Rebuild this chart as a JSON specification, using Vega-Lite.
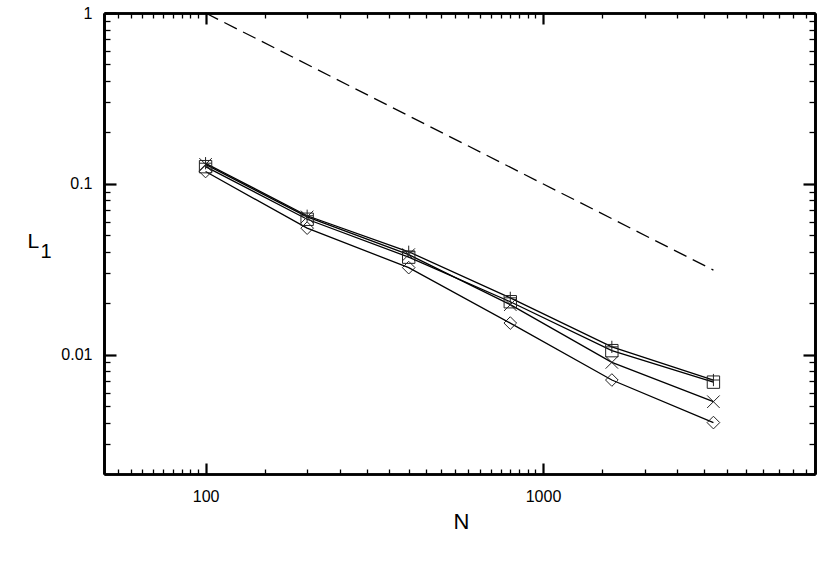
{
  "$schema": "https://vega.github.io/schema/vega-lite/v6.json",
  "width": 711,
  "height": 461,
  "autosize": "none",
  "padding": {"left": 104, "top": 13, "right": 15, "bottom": 106},
  "background": "white",
  "config": {
    "view": {"stroke": null},
    "axis": {"tickColor": "black", "domainColor": "black", "domainWidth": 2.7, "grid": false, "labelOverlap": false, "labelFlush": false, "labelBound": false}
  },
  "datasets": {
    "ref": [
      {"N": 100, "L1": 1},
      {"N": 3200, "L1": 0.03125}
    ],
    "err": [
      {"series": "plus", "N": 100, "L1": 0.132},
      {"series": "plus", "N": 200, "L1": 0.065},
      {"series": "plus", "N": 400, "L1": 0.040},
      {"series": "plus", "N": 800, "L1": 0.0215},
      {"series": "plus", "N": 1600, "L1": 0.0111},
      {"series": "plus", "N": 3200, "L1": 0.0071},
      {"series": "square", "N": 100, "L1": 0.126},
      {"series": "square", "N": 200, "L1": 0.062},
      {"series": "square", "N": 400, "L1": 0.0372},
      {"series": "square", "N": 800, "L1": 0.0204},
      {"series": "square", "N": 1600, "L1": 0.01055},
      {"series": "square", "N": 3200, "L1": 0.0069},
      {"series": "cross", "N": 100, "L1": 0.130},
      {"series": "cross", "N": 200, "L1": 0.064},
      {"series": "cross", "N": 400, "L1": 0.0385},
      {"series": "cross", "N": 800, "L1": 0.0196},
      {"series": "cross", "N": 1600, "L1": 0.0090},
      {"series": "cross", "N": 3200, "L1": 0.0053},
      {"series": "diamond", "N": 100, "L1": 0.118},
      {"series": "diamond", "N": 200, "L1": 0.055},
      {"series": "diamond", "N": 400, "L1": 0.0323},
      {"series": "diamond", "N": 800, "L1": 0.0153},
      {"series": "diamond", "N": 1600, "L1": 0.0071},
      {"series": "diamond", "N": 3200, "L1": 0.0040}
    ]
  },
  "resolve": {"axis": {"x": "independent", "y": "independent"}},
  "layer": [
    {
      "data": {"name": "ref"},
      "mark": {"type": "line", "color": "black", "strokeWidth": 1.3, "strokeDash": [14, 7]},
      "encoding": {
        "x": {
          "field": "N", "type": "quantitative",
          "scale": {"type": "log", "domain": [50, 6400], "nice": false},
          "axis": {
            "orient": "bottom",
            "values": [100, 1000],
            "labelExpr": "datum.value == 100 ? '100' : '1000'",
            "tickSize": -11,
            "tickWidth": 2.2,
            "labelFont": "Liberation Sans",
            "labelFontSize": 16,
            "labelColor": "black",
            "labelPadding": 25,
            "title": "N",
            "titleFont": "Liberation Sans",
            "titleFontSize": 22,
            "titleFontWeight": "normal",
            "titleColor": "black",
            "titleX": 357,
            "titleY": 54,
            "titleAlign": "center",
            "titleBaseline": "alphabetic"
          }
        },
        "y": {
          "field": "L1", "type": "quantitative",
          "scale": {"type": "log", "domain": [0.002, 1], "nice": false},
          "axis": {
            "orient": "left",
            "values": [0.01, 0.1, 1],
            "labelExpr": "datum.value == 1 ? '1' : datum.value == 0.1 ? '0.1' : '0.01'",
            "tickSize": -12,
            "tickWidth": 2.2,
            "labelFont": "Liberation Sans",
            "labelFontSize": 16,
            "labelColor": "black",
            "labelPadding": 24,
            "title": "L",
            "titleFont": "Liberation Sans",
            "titleFontSize": 21,
            "titleFontWeight": "normal",
            "titleColor": "black",
            "titleAngle": 0,
            "titleX": -77,
            "titleY": 234,
            "titleAlign": "left",
            "titleBaseline": "alphabetic"
          }
        }
      }
    },
    {
      "data": {"name": "err"},
      "mark": {"type": "line", "color": "black", "strokeWidth": 1.3},
      "encoding": {
        "x": {
          "field": "N", "type": "quantitative",
          "scale": {"type": "log", "domain": [50, 6400], "nice": false},
          "axis": {
            "orient": "bottom",
            "values": [55,60,65,70,75,80,85,90,95,150,200,250,300,350,400,450,500,550,600,650,700,750,800,850,900,950,1500,2000,2500,3000,3500,4000,4500,5000,5500,6000],
            "labels": false,
            "tickSize": -5,
            "tickWidth": 1.3,
            "title": null
          }
        },
        "y": {
          "field": "L1", "type": "quantitative",
          "scale": {"type": "log", "domain": [0.002, 1], "nice": false},
          "axis": {
            "orient": "left",
            "values": [0.002,0.003,0.004,0.005,0.006,0.007,0.008,0.009,0.02,0.03,0.04,0.05,0.06,0.07,0.08,0.09,0.2,0.3,0.4,0.5,0.6,0.7,0.8,0.9],
            "labels": false,
            "tickSize": -6,
            "tickWidth": 1.3,
            "title": null
          }
        },
        "detail": {"field": "series", "type": "nominal"}
      }
    },
    {
      "data": {"name": "err"},
      "transform": [{"filter": "datum.series == 'plus' || datum.series == 'square'"}],
      "mark": {"type": "point", "filled": false, "stroke": "#222222", "strokeWidth": 1, "opacity": 1},
      "encoding": {
        "x": {
          "field": "N", "type": "quantitative",
          "scale": {"type": "log", "domain": [50, 6400], "nice": false},
          "axis": {
            "orient": "top",
            "values": [100, 1000],
            "labels": false,
            "tickSize": -11,
            "tickWidth": 2.2,
            "title": null
          }
        },
        "y": {
          "field": "L1", "type": "quantitative",
          "scale": {"type": "log", "domain": [0.002, 1], "nice": false},
          "axis": {
            "orient": "right",
            "values": [0.01, 0.1, 1],
            "labels": false,
            "tickSize": -12,
            "tickWidth": 2.2,
            "title": "1",
            "titleFont": "Liberation Sans",
            "titleFontSize": 20,
            "titleFontWeight": "normal",
            "titleColor": "black",
            "titleAngle": 0,
            "titleX": -775,
            "titleY": 244,
            "titleAlign": "left",
            "titleBaseline": "alphabetic"
          }
        },
        "shape": {
          "field": "series", "type": "nominal",
          "scale": {"domain": ["plus", "square", "cross", "diamond"], "range": ["M-1,0L1,0M0,-1L0,1", "square", "M-1,-1L1,1M-1,1L1,-1", "diamond"]},
          "legend": null
        },
        "size": {
          "field": "series", "type": "nominal",
          "scale": {"domain": ["plus", "square", "cross", "diamond"], "range": [150, 160, 190, 240]},
          "legend": null
        }
      }
    },
    {
      "data": {"name": "err"},
      "transform": [{"filter": "datum.series == 'cross' || datum.series == 'diamond'"}],
      "mark": {"type": "point", "filled": false, "stroke": "#222222", "strokeWidth": 1, "opacity": 1},
      "encoding": {
        "x": {
          "field": "N", "type": "quantitative",
          "scale": {"type": "log", "domain": [50, 6400], "nice": false},
          "axis": {
            "orient": "top",
            "values": [55,60,65,70,75,80,85,90,95,150,200,250,300,350,400,450,500,550,600,650,700,750,800,850,900,950,1500,2000,2500,3000,3500,4000,4500,5000,5500,6000],
            "labels": false,
            "tickSize": -5,
            "tickWidth": 1.3,
            "title": null
          }
        },
        "y": {
          "field": "L1", "type": "quantitative",
          "scale": {"type": "log", "domain": [0.002, 1], "nice": false},
          "axis": {
            "orient": "right",
            "values": [0.002,0.003,0.004,0.005,0.006,0.007,0.008,0.009,0.02,0.03,0.04,0.05,0.06,0.07,0.08,0.09,0.2,0.3,0.4,0.5,0.6,0.7,0.8,0.9],
            "labels": false,
            "tickSize": -6,
            "tickWidth": 1.3,
            "title": null
          }
        },
        "shape": {
          "field": "series", "type": "nominal",
          "scale": {"domain": ["plus", "square", "cross", "diamond"], "range": ["M-1,0L1,0M0,-1L0,1", "square", "M-1,-1L1,1M-1,1L1,-1", "diamond"]},
          "legend": null
        },
        "size": {
          "field": "series", "type": "nominal",
          "scale": {"domain": ["plus", "square", "cross", "diamond"], "range": [150, 160, 190, 240]},
          "legend": null
        }
      }
    }
  ]
}
